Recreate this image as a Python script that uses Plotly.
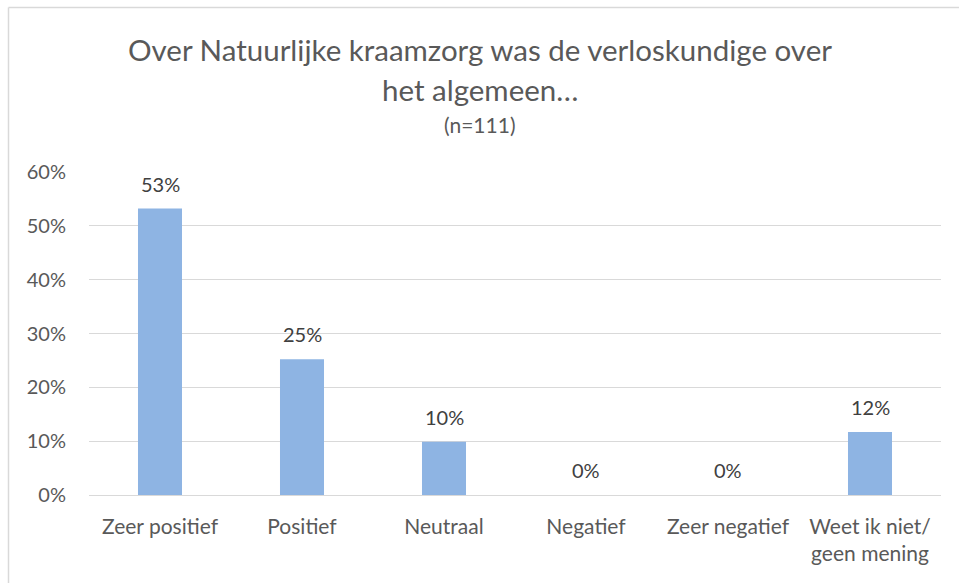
import plotly.graph_objects as go

categories = ["Zeer positief", "Positief", "Neutraal", "Negatief", "Zeer negatief", "Weet ik niet/<br>geen mening"]
values = [0.532, 0.252, 0.099, 0.0, 0.0, 0.117]
labels = ["53%", "25%", "10%", "0%", "0%", "12%"]
tick_vals = [0, 0.1, 0.2, 0.3, 0.4, 0.5, 0.6]
tick_text = ["0%", "10%", "20%", "30%", "40%", "50%", "60%"]
title_lines = ["Over Natuurlijke kraamzorg was de verloskundige over", "het algemeen…"]
subtitle = "(n=111)"

W, H = 959, 583
FONT = "Lato"
GREY = "#595959"

fig = go.Figure()
fig.add_trace(go.Bar(
    x=categories, y=values,
    marker=dict(color="#8eb4e3", line=dict(width=0)),
    width=0.31, hoverinfo="skip",
))

for c, v, t in zip(categories, values, labels):
    fig.add_annotation(x=c, y=v, xref="x", yref="y", text=t, showarrow=False,
                       yanchor="middle", yshift=25,
                       font=dict(family=FONT, size=20, color="#404040"))

def py(p):
    return 1 - p / H

fig.add_annotation(x=0.5, y=py(50), xref="paper", yref="paper", text=title_lines[0],
                   showarrow=False, yanchor="middle", xanchor="center",
                   font=dict(family=FONT, size=29.5, color=GREY))
fig.add_annotation(x=0.5, y=py(89), xref="paper", yref="paper", text=title_lines[1],
                   showarrow=False, yanchor="middle", xanchor="center",
                   font=dict(family=FONT, size=29.5, color=GREY))
fig.add_annotation(x=0.5, y=py(125), xref="paper", yref="paper", text=subtitle,
                   showarrow=False, yanchor="middle", xanchor="center",
                   font=dict(family=FONT, size=21, color=GREY))

# chart frame
fig.add_shape(type="line", xref="paper", yref="paper", x0=8.5 / W, x1=1.01, y0=py(7.5), y1=py(7.5),
              line=dict(color="#d9d9d9", width=1.5))
fig.add_shape(type="line", xref="paper", yref="paper", x0=8.5 / W, x1=8.5 / W, y0=py(7.5), y1=-0.01,
              line=dict(color="#d9d9d9", width=1.5))

fig.update_layout(
    width=W, height=H,
    margin=dict(l=0, r=0, t=0, b=0, autoexpand=False),
    paper_bgcolor="white", plot_bgcolor="white",
    showlegend=False,
    xaxis=dict(domain=[89 / W, 941 / W], showgrid=False, showline=False, ticks="",
               automargin=False, ticklabelstandoff=17,
               tickfont=dict(family=FONT, size=21, color=GREY), fixedrange=True),
    yaxis=dict(domain=[py(495), py(172)], range=[0, 0.6], tickvals=tick_vals, ticktext=tick_text,
               showgrid=True, gridcolor="#d9d9d9", gridwidth=1, zeroline=True,
               zerolinecolor="#d9d9d9", zerolinewidth=1, showline=False, ticks="",
               automargin=False, ticklabelstandoff=22,
               tickfont=dict(family=FONT, size=20, color=GREY), fixedrange=True),
)

fig.write_html("out.html", config={"displayModeBar": False},
               post_script="document.body.style.margin='0';document.body.style.overflow='hidden';")
